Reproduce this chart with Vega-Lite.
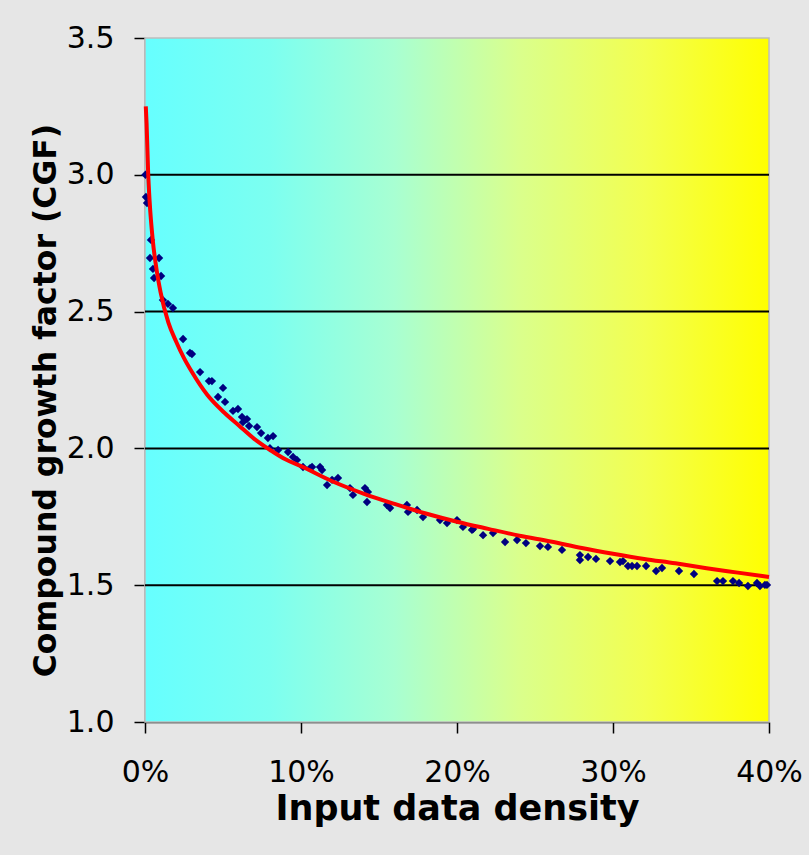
{
  "$schema": "https://vega.github.io/schema/vega-lite/v6.json",
  "width": 624,
  "height": 684,
  "autosize": {"type": "none"},
  "padding": {"left": 145, "top": 38, "right": 40, "bottom": 133},
  "background": "#E6E6E6",
  "config": {
    "view": {"stroke": null},
    "axis": {
      "labelFont": "DejaVu Sans",
      "titleFont": "DejaVu Sans",
      "labelColor": "#000000",
      "titleColor": "#000000",
      "domainColor": "#000000",
      "tickColor": "#000000",
      "domainWidth": 1.5,
      "tickWidth": 1.5,
      "tickSize": 11,
      "grid": false,
      "labelFlush": false,
      "zindex": 1
    }
  },
  "datasets": {
    "bg": [{"x0": 0, "x1": 0.4, "y0": 1.0, "y1": 3.5}],
    "grid": [{"g": 1.5}, {"g": 2.0}, {"g": 2.5}, {"g": 3.0}],
    "pts": [
      {"d": 0.0003, "cgf": 3.00}, {"d": 0.0006, "cgf": 2.919}, {"d": 0.0013, "cgf": 2.897},
      {"d": 0.0038, "cgf": 2.762}, {"d": 0.0032, "cgf": 2.696}, {"d": 0.0090, "cgf": 2.696},
      {"d": 0.0051, "cgf": 2.656}, {"d": 0.0103, "cgf": 2.630}, {"d": 0.0058, "cgf": 2.623},
      {"d": 0.0115, "cgf": 2.542}, {"d": 0.0147, "cgf": 2.528}, {"d": 0.0179, "cgf": 2.513},
      {"d": 0.0244, "cgf": 2.400}, {"d": 0.0288, "cgf": 2.349}, {"d": 0.0301, "cgf": 2.345},
      {"d": 0.0353, "cgf": 2.279}, {"d": 0.0410, "cgf": 2.246}, {"d": 0.0429, "cgf": 2.246},
      {"d": 0.0500, "cgf": 2.221}, {"d": 0.0468, "cgf": 2.188}, {"d": 0.0513, "cgf": 2.170},
      {"d": 0.0564, "cgf": 2.137}, {"d": 0.0596, "cgf": 2.144}, {"d": 0.0622, "cgf": 2.115},
      {"d": 0.0654, "cgf": 2.107}, {"d": 0.0628, "cgf": 2.096}, {"d": 0.0667, "cgf": 2.082},
      {"d": 0.0718, "cgf": 2.078}, {"d": 0.0744, "cgf": 2.056}, {"d": 0.0788, "cgf": 2.038},
      {"d": 0.0821, "cgf": 2.045}, {"d": 0.0801, "cgf": 2.001}, {"d": 0.0853, "cgf": 1.994},
      {"d": 0.0917, "cgf": 1.987}, {"d": 0.0949, "cgf": 1.969}, {"d": 0.0974, "cgf": 1.958},
      {"d": 0.1013, "cgf": 1.932}, {"d": 0.1058, "cgf": 1.928}, {"d": 0.1071, "cgf": 1.932},
      {"d": 0.1122, "cgf": 1.932}, {"d": 0.1135, "cgf": 1.921}, {"d": 0.1167, "cgf": 1.866},
      {"d": 0.1199, "cgf": 1.885}, {"d": 0.1237, "cgf": 1.892}, {"d": 0.1314, "cgf": 1.855},
      {"d": 0.1333, "cgf": 1.830}, {"d": 0.1410, "cgf": 1.855}, {"d": 0.1429, "cgf": 1.841},
      {"d": 0.1423, "cgf": 1.804}, {"d": 0.1551, "cgf": 1.793}, {"d": 0.1571, "cgf": 1.782},
      {"d": 0.1679, "cgf": 1.793}, {"d": 0.1686, "cgf": 1.768}, {"d": 0.1744, "cgf": 1.775},
      {"d": 0.1782, "cgf": 1.749}, {"d": 0.1891, "cgf": 1.738}, {"d": 0.1936, "cgf": 1.727},
      {"d": 0.2000, "cgf": 1.738}, {"d": 0.2038, "cgf": 1.713}, {"d": 0.2103, "cgf": 1.705},
      {"d": 0.2096, "cgf": 1.702}, {"d": 0.2167, "cgf": 1.683}, {"d": 0.2231, "cgf": 1.691},
      {"d": 0.2308, "cgf": 1.658}, {"d": 0.2385, "cgf": 1.665}, {"d": 0.2442, "cgf": 1.654},
      {"d": 0.2532, "cgf": 1.643}, {"d": 0.2583, "cgf": 1.640}, {"d": 0.2673, "cgf": 1.629},
      {"d": 0.2788, "cgf": 1.610}, {"d": 0.2788, "cgf": 1.592}, {"d": 0.2840, "cgf": 1.603},
      {"d": 0.2891, "cgf": 1.596}, {"d": 0.2981, "cgf": 1.588}, {"d": 0.3045, "cgf": 1.585},
      {"d": 0.3096, "cgf": 1.570}, {"d": 0.3064, "cgf": 1.588}, {"d": 0.3122, "cgf": 1.570},
      {"d": 0.3154, "cgf": 1.570}, {"d": 0.3212, "cgf": 1.570}, {"d": 0.3276, "cgf": 1.552},
      {"d": 0.3314, "cgf": 1.563}, {"d": 0.3423, "cgf": 1.552}, {"d": 0.3519, "cgf": 1.541},
      {"d": 0.3667, "cgf": 1.515}, {"d": 0.3705, "cgf": 1.515}, {"d": 0.3769, "cgf": 1.515},
      {"d": 0.3808, "cgf": 1.508}, {"d": 0.3865, "cgf": 1.497}, {"d": 0.3923, "cgf": 1.508},
      {"d": 0.3942, "cgf": 1.497}, {"d": 0.3974, "cgf": 1.501}, {"d": 0.3987, "cgf": 1.501}
    ],
    "fit": [
      {"d": 0.0005, "cgf": 3.25}, {"d": 0.001, "cgf": 3.19}, {"d": 0.002, "cgf": 3.01},
      {"d": 0.003, "cgf": 2.90}, {"d": 0.005, "cgf": 2.76}, {"d": 0.0075, "cgf": 2.65},
      {"d": 0.01, "cgf": 2.57}, {"d": 0.015, "cgf": 2.46}, {"d": 0.02, "cgf": 2.39},
      {"d": 0.025, "cgf": 2.33}, {"d": 0.03, "cgf": 2.28}, {"d": 0.04, "cgf": 2.195},
      {"d": 0.05, "cgf": 2.135}, {"d": 0.06, "cgf": 2.085}, {"d": 0.07, "cgf": 2.035},
      {"d": 0.08, "cgf": 1.995}, {"d": 0.09, "cgf": 1.96}, {"d": 0.10, "cgf": 1.935},
      {"d": 0.12, "cgf": 1.88}, {"d": 0.14, "cgf": 1.835}, {"d": 0.16, "cgf": 1.797},
      {"d": 0.18, "cgf": 1.762}, {"d": 0.20, "cgf": 1.732}, {"d": 0.22, "cgf": 1.706},
      {"d": 0.24, "cgf": 1.681}, {"d": 0.26, "cgf": 1.66}, {"d": 0.28, "cgf": 1.636},
      {"d": 0.30, "cgf": 1.615}, {"d": 0.32, "cgf": 1.596}, {"d": 0.34, "cgf": 1.58},
      {"d": 0.36, "cgf": 1.562}, {"d": 0.38, "cgf": 1.546}, {"d": 0.40, "cgf": 1.53}
    ]
  },
  "layer": [
    {
      "data": {"name": "bg"},
      "mark": {
        "type": "rect",
        "stroke": "#BDBDBD",
        "strokeWidth": 1.5,
        "fill": {
          "x1": 0, "y1": 0, "x2": 1, "y2": 0,
          "gradient": "linear",
          "stops": [
            {"offset": 0, "color": "#66FFFF"},
            {"offset": 0.2, "color": "#7CFFF0"},
            {"offset": 0.4, "color": "#A8FFD2"},
            {"offset": 0.6, "color": "#DAFF8C"},
            {"offset": 0.8, "color": "#F2FF50"},
            {"offset": 1, "color": "#FFFF00"}
          ]
        }
      },
      "encoding": {
        "x": {"field": "x0", "type": "quantitative", "scale": {"domain": [0, 0.4], "nice": false},
              "axis": {"values": [0, 0.1, 0.2, 0.3, 0.4], "format": ".0%", "title": "Input data density",
                       "labelFontSize": 30, "labelPadding": 24, "titleFontSize": 35, "titleFontWeight": "bold", "titlePadding": 4}},
        "x2": {"field": "x1"},
        "y": {"field": "y0", "type": "quantitative", "scale": {"domain": [1, 3.5], "nice": false},
              "axis": {"values": [1, 1.5, 2, 2.5, 3, 3.5], "format": ".1f", "title": "Compound growth factor (CGF)",
                       "labelFontSize": 30, "labelPadding": 20, "titleFontSize": 31.5, "titleFontWeight": "bold", "titlePadding": 4, "titleY": 362}},
        "y2": {"field": "y1"}
      }
    },
    {
      "data": {"name": "grid"},
      "mark": {"type": "rule", "color": "#000000", "strokeWidth": 2},
      "encoding": {"y": {"field": "g", "type": "quantitative"}}
    },
    {
      "data": {"name": "pts"},
      "mark": {"type": "point", "shape": "diamond", "filled": true, "color": "#000080", "size": 70, "opacity": 1},
      "encoding": {
        "x": {"field": "d", "type": "quantitative"},
        "y": {"field": "cgf", "type": "quantitative"}
      }
    },
    {
      "data": {"name": "fit"},
      "mark": {"type": "line", "color": "#FF0000", "strokeWidth": 4, "interpolate": "monotone"},
      "encoding": {
        "x": {"field": "d", "type": "quantitative"},
        "y": {"field": "cgf", "type": "quantitative"}
      }
    }
  ]
}
